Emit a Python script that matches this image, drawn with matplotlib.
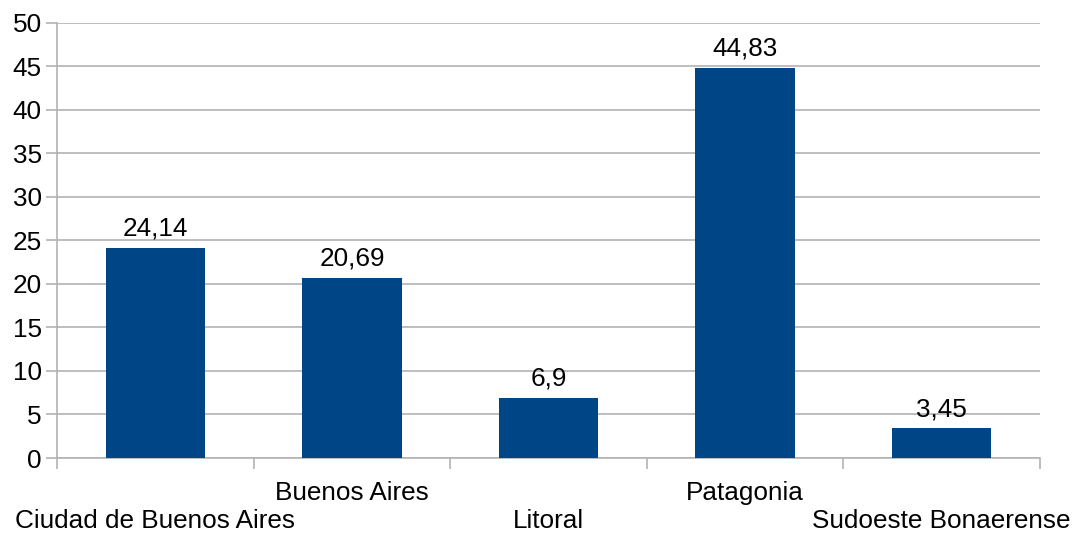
import matplotlib
matplotlib.use("Agg")
import matplotlib.pyplot as plt
import numpy as np

categories = ["Ciudad de Buenos Aires", "Buenos Aires", "Litoral", "Patagonia", "Sudoeste Bonaerense"]
values = [24.14, 20.69, 6.9, 44.83, 3.45]
value_labels = ["24,14", "20,69", "6,9", "44,83", "3,45"]
yticks = [0, 5, 10, 15, 20, 25, 30, 35, 40, 45, 50]

plt.rcParams['font.family'] = ['Liberation Sans', 'DejaVu Sans']
FS = 18.8
grid_c = "#b3b3b3"
bar_c = "#004586"

fig = plt.figure(figsize=(10.72, 5.33), dpi=100)
ax = fig.add_axes([57/1072, 1 - 458/533, (1040-57)/1072, (458-22.5)/533])

x = np.arange(len(categories))
ax.bar(x, values, width=0.505, color=bar_c, zorder=3)
for xi, v, lab in zip(x, values, value_labels):
    ax.annotate(lab, (xi, v), xytext=(0, 5), textcoords="offset points",
                ha="center", va="bottom", fontsize=FS, color="black")

ax.set_xlim(-0.5, len(categories) - 0.5)
ax.set_ylim(0, 50)
ax.set_yticks(yticks)
ax.set_yticklabels([str(t) for t in yticks], fontsize=FS)
ax.yaxis.grid(True, color=grid_c, linewidth=1.2, zorder=0)
ax.tick_params(axis="y", length=8, color=grid_c, width=1.2, pad=3)

# boundary ticks on x axis
ax.set_xticks(np.arange(len(categories) + 1) - 0.5)
ax.set_xticklabels([])
ax.tick_params(axis="x", length=8, color=grid_c, width=1.2)
for i, cat in enumerate(categories):
    yoff = -25.5 if i % 2 == 1 else -45.5
    ax.annotate(cat, (i, 0), xytext=(0, yoff), textcoords="offset points",
                xycoords="data", ha="center", va="center", fontsize=FS,
                annotation_clip=False)

for s in ["top", "right"]:
    ax.spines[s].set_visible(False)
for s in ["left", "bottom"]:
    ax.spines[s].set_color(grid_c)
    ax.spines[s].set_linewidth(1.2)
    ax.spines[s].set_zorder(1)

fig.savefig("out.png", dpi=100)
